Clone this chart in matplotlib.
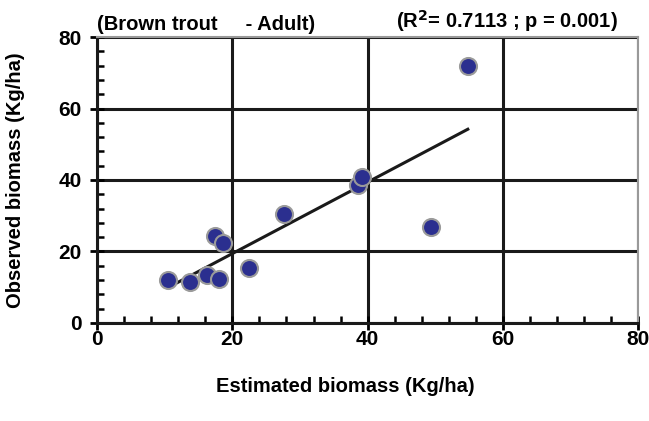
import matplotlib
matplotlib.use("Agg")
from matplotlib import pyplot as plt
from matplotlib.ticker import MultipleLocator
import numpy as np

plt.rcParams["font.family"] = ["Liberation Sans", "DejaVu Sans"]
plt.rcParams["font.weight"] = "bold"

# estimated vs observed biomass (Kg/ha)
estimated = [10.5, 13.7, 16.3, 18.1, 17.4, 18.6, 22.5, 27.7, 38.5, 39.1, 49.3, 54.8]
observed = [12.0, 11.4, 13.4, 12.4, 24.3, 22.3, 15.3, 30.4, 38.5, 40.7, 26.9, 71.9]

# regression line end points
fit_x = [10.6, 54.8]
fit_y = [10.0, 54.2]

fig = plt.figure(figsize=(6.49, 4.21), dpi=100)
ax = fig.add_axes([0.1495, 0.233, 0.834, 0.679])

ax.set_xlim(0, 80)
ax.set_ylim(0, 80)
ax.xaxis.set_major_locator(MultipleLocator(20))
ax.yaxis.set_major_locator(MultipleLocator(20))
ax.xaxis.set_minor_locator(MultipleLocator(4))
ax.yaxis.set_minor_locator(MultipleLocator(4))
ax.grid(True, which="major", color="#1a1a1a", lw=2.2)
ax.set_axisbelow(True)

for s in ["top", "right"]:
    ax.spines[s].set_color("#999999")
    ax.spines[s].set_linewidth(1.5)
for s in ["left", "bottom"]:
    ax.spines[s].set_color("#1a1a1a")
    ax.spines[s].set_linewidth(2.2)

ax.tick_params(which="major", direction="inout", length=10, width=2, labelsize=15, pad=0)
ax.tick_params(which="minor", direction="in", length=5, width=1.8)
ax.tick_params(axis="y", which="major", pad=6)

ax.plot(fit_x, fit_y, color="#1a1a1a", lw=2.2, zorder=3)
ax.scatter(estimated, observed, s=150, color="#2b2f8f", edgecolors="#9a9a9a",
           linewidths=1.5, zorder=4, clip_on=False)

ax.set_xlabel("Estimated biomass (Kg/ha)", fontsize=14.5, fontweight="bold")
ax.xaxis.set_label_coords(0.458, -0.19, transform=ax.transAxes)
ax.set_ylabel("Observed biomass (Kg/ha)", fontsize=14.5, fontweight="bold", labelpad=24)

ax.text(0.0, 1.012, "(Brown trout     - Adult)", transform=ax.transAxes,
        fontsize=14.5, fontweight="bold", ha="left", va="bottom")
ax.text(0.962, 1.012, "(R$^{\\mathbf{2}}$= 0.7113 ; p = 0.001)", transform=ax.transAxes,
        fontsize=14.5, fontweight="bold", ha="right", va="bottom")

fig.savefig("out.png", dpi=100)
